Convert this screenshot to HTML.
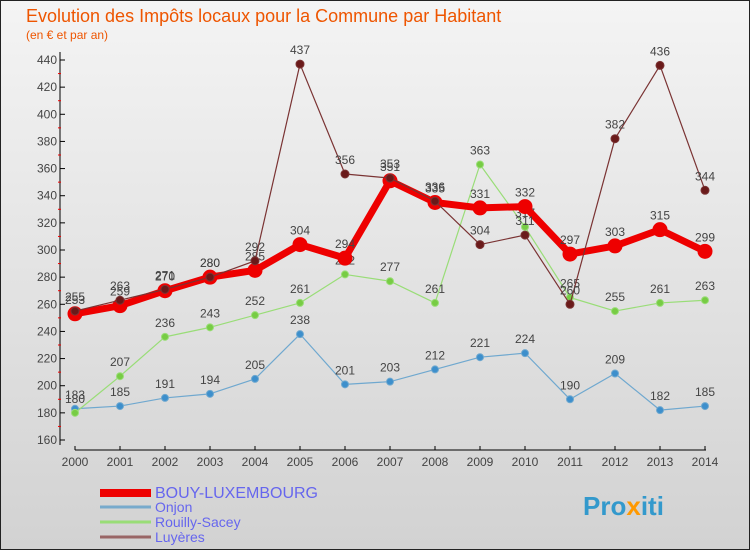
<!DOCTYPE html>
<html><head><meta charset="utf-8"><style>
body{margin:0;width:750px;height:550px;overflow:hidden;font-family:"Liberation Sans",sans-serif}
svg{display:block}
</style></head><body>
<svg id="chart" width="750" height="550" xmlns="http://www.w3.org/2000/svg">
<defs><linearGradient id="bg" x1="0" y1="0" x2="0" y2="1"><stop offset="0" stop-color="#f4f4f4"/><stop offset="1" stop-color="#d2d2d2"/></linearGradient></defs>
<rect x="0.5" y="0.5" width="749" height="549" fill="url(#bg)" stroke="#222"/>
<text x="26" y="22" font-size="18" fill="#ee5500">Evolution des Impôts locaux pour la Commune par Habitant</text>
<text x="26" y="39" font-size="12" fill="#ee5500">(en € et par an)</text>
<g id="axes"></g>
<g id="series"></g>
<g id="legend"></g>
<text x="583" y="515" font-size="26" font-weight="bold" fill="#3399cc">Pro<tspan fill="#ff9900">x</tspan>iti</text>
</svg>
<script>
const years=[2000,2001,2002,2003,2004,2005,2006,2007,2008,2009,2010,2011,2012,2013,2014];
const yTicks=[160,180,200,220,240,260,280,300,320,340,360,380,400,420,440];
const bouy=[253,259,270,280,285,304,294,351,335,331,332,297,303,315,299];
const onjon=[183,185,191,194,205,238,201,203,212,221,224,190,209,182,185];
const rouilly=[180,207,236,243,252,261,282,277,261,363,317,265,255,261,263];
const luyeres=[255,263,271,280,292,437,356,353,336,304,311,260,382,436,344];
const NS='http://www.w3.org/2000/svg';
const X=i=>75+i*45;
const Y=v=>440-(v-160)*380/280;
function mk(tag,attrs,parent){const e=document.createElementNS(NS,tag);for(const k in attrs)e.setAttribute(k,attrs[k]);parent.appendChild(e);return e;}
const axes=document.getElementById('axes');
const ya=mk('line',{x1:60,y1:52,x2:60,y2:445,stroke:'#000'},axes);


const xa=mk('line',{x1:75,y1:450,x2:706,y2:450,stroke:'#000'},axes);


yTicks.forEach(v=>{
  mk('line',{x1:60,y1:Y(v),x2:65,y2:Y(v),stroke:'#000'},axes);
  if(v<440)mk('line',{x1:58,y1:Y(v+10),x2:61,y2:Y(v+10),stroke:'#e00'},axes);
  const t=mk('text',{x:57,y:Y(v)+4,'font-size':12,'text-anchor':'end',fill:'#444'},axes);
  
  
  t.textContent=v;
});
years.forEach((yr,i)=>{
  mk('line',{x1:X(i),y1:446,x2:X(i),y2:450,stroke:'#000'},axes);
  const t=mk('text',{x:X(i),y:466,'font-size':12,'text-anchor':'middle',fill:'#444'},axes);
  
  
  t.textContent=yr;
});
const sg=document.getElementById('series');
function draw(name,vals,color,dot,w,r){
  const g=mk('g',{},sg);
  
  
  const pts=vals.map((v,i)=>X(i)+','+Y(v)).join(' ');
  mk('polyline',{points:pts,fill:'none',stroke:color,'stroke-width':w,'stroke-linejoin':'round'},g);
  vals.forEach((v,i)=>{
    const c=mk('circle',{cx:X(i),cy:Y(v),r:r,fill:dot,stroke:color,'stroke-width':1},g);
    
    
    const t=mk('text',{x:X(i),y:Y(v)-10,'font-size':12,'text-anchor':'middle',fill:'#444'},g);
    
    
    t.textContent=v;
  });
}
draw('onjon',onjon,'#6fa8cf','#3d8fcc',1.2,3.5);
draw('rouilly-sacey',rouilly,'#99dd77','#77cc44',1.2,3.5);
draw('bouy-luxembourg',bouy,'#ee0000','#ee0000',7,7);
draw('luyeres',luyeres,'#7a3333','#6a1a1a',1.2,4);
const lg=document.getElementById('legend');
const items=[['BOUY-LUXEMBOURG','#ee0000',8,16],['Onjon','#77aacc',3,14],['Rouilly-Sacey','#99dd77',3,14],['Luyères','#996666',3,14]];
items.forEach((it,k)=>{
  const yy=[493,507,522,537][k];
  const g=mk('g',{},lg);
  
  
  mk('line',{x1:100,y1:yy,x2:151,y2:yy,stroke:it[1],'stroke-width':it[2]},g);
  const t=mk('text',{x:155,y:yy+5,'font-size':it[3],fill:'#6666ee'},g);
  t.textContent=it[0];
});
</script>
</body></html>
